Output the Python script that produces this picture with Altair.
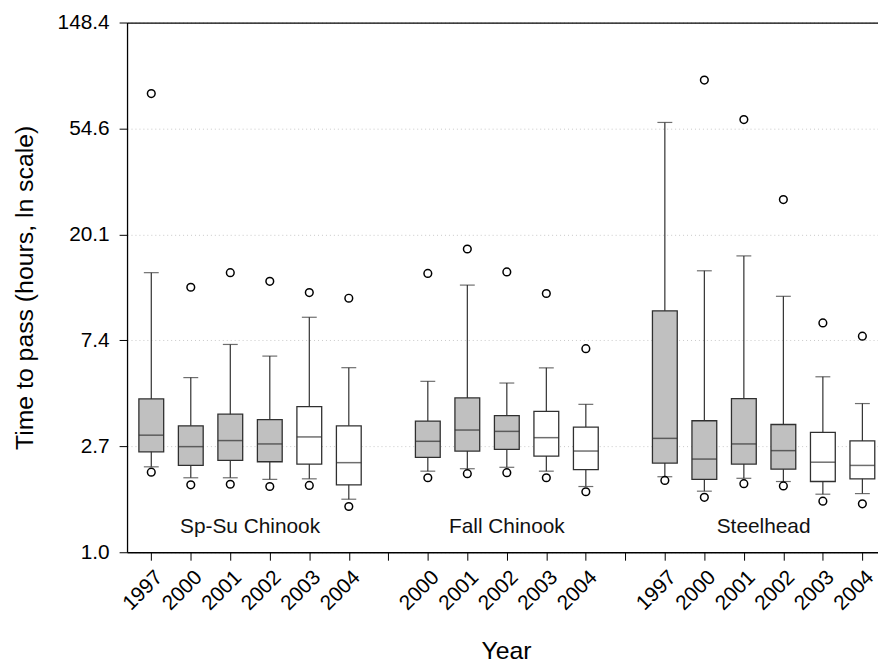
import math
import pandas as pd
import altair as alt

# Groups and the years sampled in each
groups = ["Sp-Su Chinook", "Fall Chinook", "Steelhead"]
group_years = [
    ["1997", "2000", "2001", "2002", "2003", "2004"],
    ["2000", "2001", "2002", "2003", "2004"],
    ["1997", "2000", "2001", "2002", "2003", "2004"],
]
open_years = ["2003", "2004"]  # drawn as white boxes

# Box statistics in hours
low_outlier = [
    [2.13, 1.89, 1.90, 1.86, 1.88, 1.54],
    [2.02, 2.10, 2.12, 2.02, 1.77],
    [1.97, 1.68, 1.91, 1.87, 1.62, 1.58],
]
whisker_low = [
    [2.24, 2.02, 2.02, 1.99, 2.00, 1.65],
    [2.15, 2.20, 2.23, 2.15, 1.86],
    [2.04, 1.78, 2.01, 1.95, 1.73, 1.74],
]
q1 = [
    [2.58, 2.27, 2.38, 2.35, 2.30, 1.89],
    [2.45, 2.60, 2.64, 2.48, 2.18],
    [2.32, 1.99, 2.30, 2.19, 1.95, 2.00],
]
median = [
    [3.02, 2.71, 2.87, 2.78, 2.97, 2.33],
    [2.85, 3.17, 3.13, 2.95, 2.60],
    [2.93, 2.41, 2.78, 2.61, 2.34, 2.27],
]
q3 = [
    [4.25, 3.30, 3.68, 3.50, 3.95, 3.30],
    [3.45, 4.29, 3.63, 3.78, 3.26],
    [9.77, 3.46, 4.26, 3.34, 3.10, 2.86],
]
whisker_high = [
    [14.0, 5.20, 7.11, 6.37, 9.19, 5.71],
    [5.02, 12.45, 4.94, 5.70, 4.04],
    [57.8, 14.25, 16.4, 11.2, 5.24, 4.07],
]
high_outlier = [
    [75.9, 12.2, 14.0, 12.9, 11.6, 11.0],
    [13.9, 17.5, 14.1, 11.5, 6.83],
    [None, 86.2, 59.4, 27.9, 8.71, 7.69],
]

# y ticks at e^0 .. e^5
y_ticks = [math.exp(k) for k in range(6)]

# Build box table: one empty slot between groups
rows, outliers, group_labels, tick_labels = [], [], [], []
slot = 0
for g, name in enumerate(groups):
    first = slot
    for i, yr in enumerate(group_years[g]):
        rows.append({
            "group": name, "year": yr, "slot": slot,
            "wlo": whisker_low[g][i], "q1": q1[g][i], "med": median[g][i],
            "q3": q3[g][i], "whi": whisker_high[g][i],
            "fill": "open" if yr in open_years else "shaded",
        })
        for v in (low_outlier[g][i], high_outlier[g][i]):
            if v is not None:
                outliers.append({"slot": slot, "value": v})
        tick_labels.append(yr)
        slot += 1
    group_labels.append({"group": name, "slot": (first + slot - 1) / 2, "y": 1.27})
    if g < len(groups) - 1:
        tick_labels.append("")
        slot += 1

boxes = pd.DataFrame(rows)
points = pd.DataFrame(outliers)
labels = pd.DataFrame(group_labels)

x_scale = alt.Scale(domain=[-0.488, 18.27], nice=False, zero=False)
y_scale = alt.Scale(type="log", base=math.e, domain=[1, math.exp(5)], nice=False)
label_expr = "[" + ",".join("'%s'" % t for t in tick_labels) + "][datum.value]"
stroke = "#303030"

x_bottom = alt.X(
    "slot:Q", scale=x_scale, title="Year",
    axis=alt.Axis(
        values=list(range(len(tick_labels))), labelExpr=label_expr,
        labelAngle=-45, labelFontSize=21, labelPadding=6, tickSize=8,
        labelOverlap=False, labelFlush=False,
        tickColor="black", domainColor="black", domainWidth=1.3, grid=False,
        titleFontSize=25, titleFontWeight="normal", titleBaseline="alphabetic",
        titleY=107, titleX=382, labelColor="black", titleColor="black",
    ),
)
y_axis = alt.Y(
    "q1:Q", scale=y_scale, title="Time to pass (hours, ln scale)",
    axis=alt.Axis(
        values=y_ticks, format=".1f", labelFontSize=21, labelPadding=10,
        labelOverlap=False, labelFlush=False,
        tickSize=8, tickColor="black", domainColor="black", domainWidth=1.3,
        grid=True, gridColor="#c8c8c8", gridDash=[1, 3], gridWidth=1,
        titleFontSize=25, titleFontWeight="normal", titleBaseline="alphabetic",
        titleX=-95, titleY=267, titleAngle=270, labelColor="black", titleColor="black",
    ),
)

whiskers = alt.Chart(boxes).mark_rule(color=stroke, strokeWidth=1.2).encode(
    x=alt.X("slot:Q", scale=x_scale, axis=None),
    y=alt.Y("wlo:Q", scale=y_scale, axis=None),
    y2="whi:Q",
)
caps_low = alt.Chart(boxes).mark_tick(color=stroke, size=15, thickness=1.2, orient="horizontal").encode(
    x=alt.X("slot:Q", scale=x_scale, axis=None),
    y=alt.Y("wlo:Q", scale=y_scale, axis=None),
)
caps_high = alt.Chart(boxes).mark_tick(color=stroke, size=15, thickness=1.2, orient="horizontal").encode(
    x=alt.X("slot:Q", scale=x_scale, axis=None),
    y=alt.Y("whi:Q", scale=y_scale, axis=None),
)
box = alt.Chart(boxes).mark_bar(size=25, stroke=stroke, strokeWidth=1.3).encode(
    x=x_bottom,
    y=y_axis,
    y2="q3:Q",
    fill=alt.Fill("fill:N", scale=alt.Scale(domain=["shaded", "open"], range=["#c0c0c0", "white"]), legend=None),
)
med = alt.Chart(boxes).mark_tick(color=stroke, size=25, thickness=1.5, orient="horizontal").encode(
    x=alt.X("slot:Q", scale=x_scale, axis=None),
    y=alt.Y("med:Q", scale=y_scale, axis=None),
)
dots = alt.Chart(points).mark_point(shape="circle", filled=False, size=60, color="black", strokeWidth=1.5, opacity=1).encode(
    x=alt.X("slot:Q", scale=x_scale, axis=None),
    y=alt.Y("value:Q", scale=y_scale, axis=None),
)
names = alt.Chart(labels).mark_text(fontSize=21, baseline="middle", color="#111111", font="Liberation Sans").encode(
    x=alt.X("slot:Q", scale=x_scale, axis=alt.Axis(orient="top", labels=False, ticks=False, grid=False, title=None, domainColor="black", domainWidth=1.3)),
    y=alt.Y("y:Q", scale=y_scale, axis=None),
    text="group:N",
)

chart = alt.layer(whiskers, caps_low, caps_high, box, med, dots, names).resolve_axis(
    x="independent", y="independent"
).properties(
    width=757,
    height=534,
    autosize=alt.AutoSizeParams(type="none"),
    padding={"left": 120, "top": 12, "right": 0, "bottom": 112},
).configure_view(
    stroke=None
).configure_axis(
    labelFont="Liberation Sans", titleFont="Liberation Sans"
)

chart.save("out.html", embed_options={"renderer": "svg", "actions": False})
